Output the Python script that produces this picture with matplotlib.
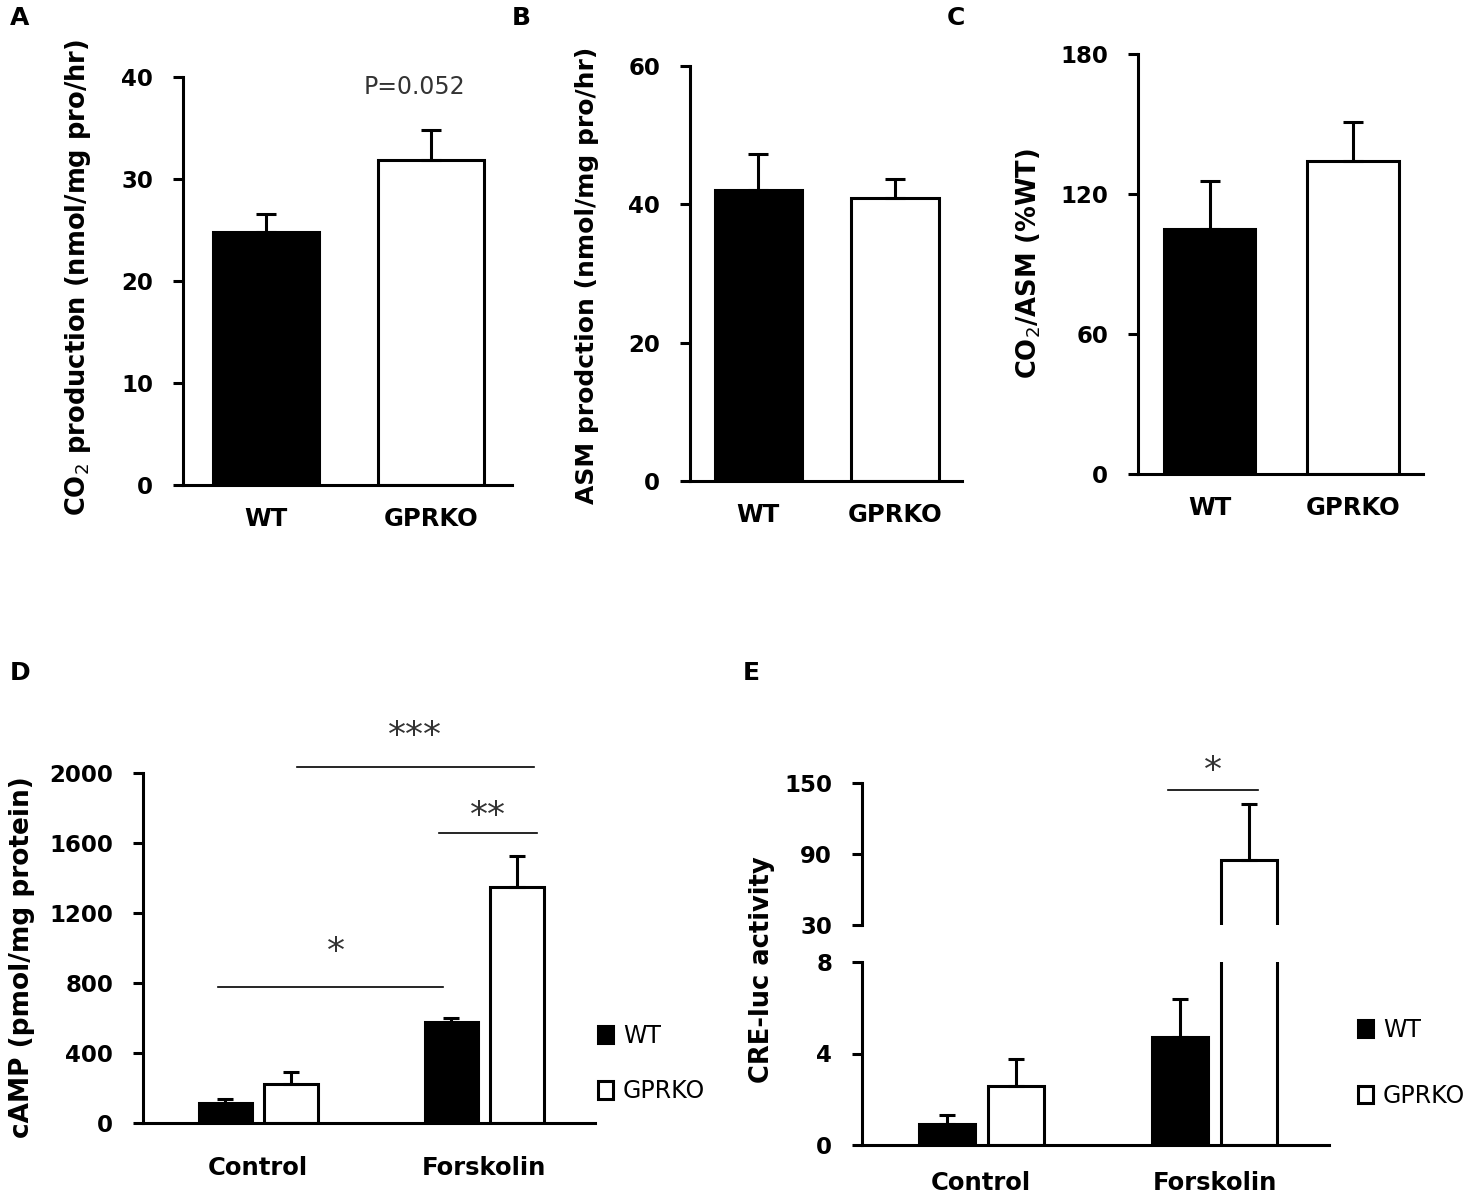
import matplotlib
matplotlib.use("Agg")
import matplotlib.pyplot as plt
from matplotlib.patches import Patch

plt.rcParams["font.family"] = ["DejaVu Sans"]
plt.rcParams["mathtext.fontset"] = "dejavusans"

W, H = 1466, 1200

# panel A-C : WT vs GPRKO
genotypes = ["WT", "GPRKO"]
co2_mean = [24.8, 31.9]
co2_err = [1.8, 2.9]
asm_mean = [42.1, 40.9]
asm_err = [5.2, 2.8]
ratio_mean = [105, 134]
ratio_err = [20.5, 17]

# panel D-E : Control vs Forskolin
conditions = ["Control", "Forskolin"]
camp_wt = [115, 578]
camp_wt_err = [25, 22]
camp_ko = [221, 1350]
camp_ko_err = [72, 173]
cre_wt = [0.9, 4.7]
cre_wt_err = [0.4, 1.7]
cre_ko = [2.6, 85]
cre_ko_err = [1.15, 47]

LW = 2.2
BOLD = dict(fontweight="bold")
STAR = "#333333"


def px_axes(fig, left, top, right, bottom):
    return fig.add_axes([left / W, 1 - bottom / H, (right - left) / W, (bottom - top) / H])


def style(ax, tick_size=16.5, xpad=16):
    for s in ["top", "right"]:
        ax.spines[s].set_visible(False)
    for s in ["left", "bottom"]:
        ax.spines[s].set_linewidth(LW)
    ax.tick_params(axis="y", direction="out", length=7.5, width=LW, labelsize=tick_size, pad=14)
    ax.tick_params(axis="x", length=0, labelsize=17.5, pad=xpad)
    for lab in ax.get_yticklabels() + ax.get_xticklabels():
        lab.set_fontweight("bold")


def two_bar(ax, means, errs, yticks, ymax):
    x = [0, 1]
    ax.bar(x, means, width=0.64, color=["black", "white"], edgecolor="black", linewidth=LW, zorder=2)
    ax.errorbar(x, means, yerr=[[0, 0], errs], fmt="none", ecolor="black",
                elinewidth=LW, capsize=7, capthick=LW, zorder=3)
    ax.set_xlim(-0.5, 1.49)
    ax.set_ylim(0, ymax)
    ax.set_yticks(yticks)
    ax.set_xticks(x)
    ax.set_xticklabels(genotypes)
    style(ax)


def grouped(ax, wt, wt_err, ko, ko_err, off=0.145, width=0.235):
    x = [0, 1]
    xw = [v - off for v in x]
    xk = [v + off for v in x]
    ax.bar(xw, wt, width=width, color="black", edgecolor="black", linewidth=LW, zorder=2)
    ax.bar(xk, ko, width=width, color="white", edgecolor="black", linewidth=LW, zorder=2)
    ax.errorbar(xw, wt, yerr=[[0, 0], wt_err], fmt="none", ecolor="black",
                elinewidth=LW, capsize=6, capthick=LW, zorder=3)
    ax.errorbar(xk, ko, yerr=[[0, 0], ko_err], fmt="none", ecolor="black",
                elinewidth=LW, capsize=6, capthick=LW, zorder=3)
    ax.set_xlim(-0.51, 1.49)
    ax.set_xticks(x)
    ax.set_xticklabels(conditions)


def sig(ax, x1, x2, y, label, ty, tx=None):
    ax.plot([x1, x2], [y, y], color="black", lw=1.2, clip_on=False)
    if tx is None:
        tx = (x1 + x2) / 2
    ax.text(tx, ty, label, ha="center", va="center", fontsize=26, color=STAR, clip_on=False)


def ylab(x, y, text, size):
    fig.text(x / W, 1 - y / H, text, rotation=90, ha="center", va="center", fontsize=size, **BOLD)


fig = plt.figure(figsize=(W / 100, H / 100), dpi=100)

# A
axA = px_axes(fig, 183, 77, 512, 485)
two_bar(axA, co2_mean, co2_err, [0, 10, 20, 30, 40], 40)
axA.text(0.9, 39, "P=0.052", ha="center", va="center", fontsize=17, color=STAR)
ylab(78, 277, "CO$_{\\mathrm{2}}$ production (nmol/mg pro/hr)", 18.5)

# B
axB = px_axes(fig, 690, 66, 962, 481)
two_bar(axB, asm_mean, asm_err, [0, 20, 40, 60], 60)
ylab(587, 275, "ASM prodction (nmol/mg pro/hr)", 18)

# C
axC = px_axes(fig, 1138, 54, 1423, 474)
two_bar(axC, ratio_mean, ratio_err, [0, 60, 120, 180], 180)
ylab(1029, 264, "CO$_{\\mathrm{2}}$/ASM (%WT)", 18.5)

# D
axD = px_axes(fig, 143, 773, 595, 1123)
grouped(axD, camp_wt, camp_wt_err, camp_ko, camp_ko_err)
axD.set_ylim(0, 2000)
axD.set_yticks([0, 400, 800, 1200, 1600, 2000])
style(axD, 16.5, xpad=24)
sig(axD, 0.17, 1.22, 2034, "***", 2210)
sig(axD, 0.80, 1.233, 1658, "**", 1755)
sig(axD, -0.18, 0.816, 778, "*", 980, tx=0.345)
ylab(22, 957, "cAMP (pmol/mg protein)", 19)

# E (broken axis)
axE = px_axes(fig, 862, 962, 1329, 1145)
axEt = px_axes(fig, 862, 783, 1329, 925)
for ax in (axE, axEt):
    grouped(ax, cre_wt, cre_wt_err, cre_ko, cre_ko_err, off=0.148, width=0.24)
axE.set_ylim(0, 8)
axE.set_yticks([0, 4, 8])
style(axE, 16.5, xpad=19)
axEt.set_ylim(30, 150)
axEt.set_yticks([30, 90, 150])
style(axEt, 16.5)
axEt.spines["bottom"].set_visible(False)
axEt.set_xticks([])
sig(axEt, 0.80, 1.187, 144, "*", 160, tx=0.994)
ylab(762, 970, "CRE-luc activity", 18.5)

# legends
handles = [Patch(facecolor="black", edgecolor="black", linewidth=LW),
           Patch(facecolor="white", edgecolor="black", linewidth=LW)]
for x0, y0, sp in [(598, 1024, 1.32), (1358, 1018, 1.76)]:
    fig.legend(handles, genotypes, loc="upper left", bbox_to_anchor=(x0 / W, 1 - y0 / H),
               frameon=False, fontsize=17, handlelength=0.65, handleheight=0.75,
               handletextpad=0.4, labelspacing=sp, borderaxespad=0, borderpad=0)

# panel letters
for lab, x, y in [("A", 20, 18), ("B", 521, 18), ("C", 956, 18), ("D", 20, 673), ("E", 751, 673)]:
    fig.text(x / W, 1 - y / H, lab, ha="center", va="center", fontsize=18, **BOLD)

fig.savefig("out.png", dpi=100)
